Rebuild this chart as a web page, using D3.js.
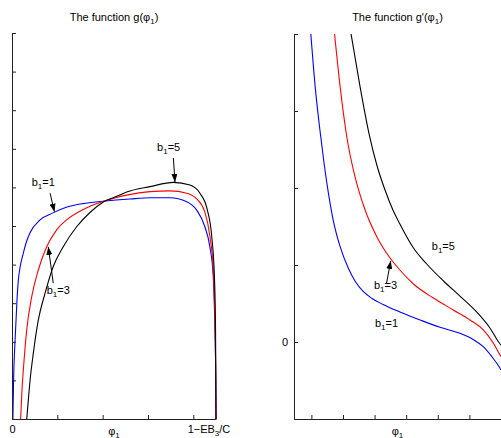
<!DOCTYPE html>
<html>
<head>
<meta charset="utf-8">
<script src="https://cdn.jsdelivr.net/npm/d3@7"></script>
<style>
  body { margin: 0; background: #fff; }
  svg text { font-family: "Liberation Sans", Arial, sans-serif; font-size: 11px; fill: #000; }
</style>
</head>
<body>
<div id="chart_box"></div>
<script>
// g(phi1) for b1 = 1, 3, 5  -> [phi1, g]
var gB1 = [[0.004,0],[0.007,0.101],[0.013,0.197],[0.022,0.308],[0.028,0.360],[0.035,0.391],[0.050,0.430],
    [0.062,0.456],[0.079,0.482],[0.124,0.516],[0.181,0.534],[0.243,0.549],[0.313,0.558],[0.401,0.564],
    [0.521,0.570],[0.609,0.573],[0.697,0.573],[0.771,0.563],[0.815,0.541],[0.851,0.498],[0.873,0.446],
    [0.888,0.369],[0.895,0.239],[0.899,0.101],[0.900,0]];
var gB3 = [[0.038,0],[0.044,0.075],[0.050,0.127],[0.065,0.231],[0.087,0.317],[0.116,0.386],[0.153,0.446],
    [0.197,0.490],[0.241,0.516],[0.315,0.543],[0.388,0.561],[0.462,0.574],[0.506,0.580],[0.609,0.589],
    [0.697,0.591],[0.771,0.585],[0.815,0.570],[0.851,0.536],[0.873,0.474],[0.888,0.386],[0.895,0.256],
    [0.899,0.101],[0.900,0]];
var gB5 = [[0.065,0],[0.072,0.049],[0.079,0.096],[0.094,0.170],[0.116,0.256],[0.146,0.326],[0.182,0.395],
    [0.226,0.446],[0.285,0.498],[0.344,0.535],[0.403,0.562],[0.462,0.577],[0.506,0.588],[0.609,0.602],
    [0.712,0.613],[0.785,0.606],[0.829,0.585],[0.862,0.541],[0.881,0.474],[0.893,0.369],[0.898,0.231],
    [0.900,0]];

// g'(phi1) for b1 = 1, 3, 5  -> [phi1, g']
var dgB1 = [[0.098,4.013],[0.112,3.316],[0.127,2.753],[0.140,2.325],[0.154,1.931],[0.169,1.584],[0.191,1.238],
    [0.217,0.957],[0.238,0.792],[0.264,0.656],[0.292,0.565],[0.327,0.487],[0.380,0.390],[0.444,0.286],
    [0.507,0.191],[0.570,0.113],[0.612,0.032],[0.644,-0.061],[0.671,-0.191],[0.697,-0.342],[0.700,-0.364]];
var dgB3 = [[0.173,4.013],[0.191,3.316],[0.212,2.666],[0.238,2.147],[0.270,1.714],[0.307,1.368],[0.349,1.091],
    [0.380,0.935],[0.423,0.753],[0.486,0.571],[0.549,0.416],[0.602,0.286],[0.644,0.156],[0.676,-0.017],
    [0.697,-0.169],[0.700,-0.190]];
var dgB5 = [[0.225,4.013],[0.254,3.316],[0.282,2.714],[0.307,2.299],[0.333,1.974],[0.358,1.714],[0.380,1.532],
    [0.423,1.221],[0.465,1.013],[0.518,0.792],[0.570,0.597],[0.623,0.390],[0.665,0.182],[0.697,-0.026],
    [0.700,-0.040]];

var seriesColors = ["#0000ff", "#ff0000", "#000000"];

// ticks
var leftXTicks = [0, 0.2, 0.4, 0.6, 0.8];
var leftYTicks = d3.range(0, 11).map(function (i) { return i / 10; });
var rightXTicks = [0.1, 0.2, 0.3, 0.4, 0.5, 0.6, 0.7];
var rightYTicks = [-1, 0, 1, 2, 3, 4];
var endLabelPhi = 0.869; // where "1-EB3/C" sits

// annotations (data units): b1 label and optional arrow from -> to
var leftNotes = [
    { b: "5", at: [0.640, 0.694], from: [0.712, 0.676], to: [0.719, 0.614] },
    { b: "1", at: [0.087, 0.604], from: [0.168, 0.585], to: [0.187, 0.537] },
    { b: "3", at: [0.153, 0.324], from: [0.182, 0.352], to: [0.160, 0.446] }
];
var rightNotes = [
    { b: "5", at: [0.481, 1.195] },
    { b: "3", at: [0.298, 0.688], from: [0.338, 0.766], to: [0.351, 1.052] },
    { b: "1", at: [0.301, 0.195] }
];

var W = 501, H = 438;
var svg = d3.select("#chart_box").append("svg")
    .attr("width", W)
    .attr("height", H);

svg.append("defs").append("marker")
    .attr("id", "arrow")
    .attr("markerUnits", "userSpaceOnUse")
    .attr("viewBox", "0 0 8 6")
    .attr("refX", 8).attr("refY", 3)
    .attr("markerWidth", 8).attr("markerHeight", 6)
    .attr("orient", "auto")
    .append("path").attr("d", "M0,0L8,3L0,6Z").attr("fill", "#000");

// scales
var xL = d3.scaleLinear().domain([0, 0.9]).range([12, 216]);
var yL = d3.scaleLinear().domain([0, 1]).range([419, 33]);
var xR = d3.scaleLinear().domain([0.045, 0.7]).range([294, 501]);
var yR = d3.scaleLinear().domain([-1, 4]).range([419, 34]);

// text with subscripts: parts = [[str, isSub], ...]
function richText(sel, x, y, parts, anchor) {
    var t = sel.append("text").attr("x", x).attr("y", y)
        .attr("text-anchor", anchor || "start");
    var shift = 0;
    parts.forEach(function (p) {
        var s = p[1] ? 3 : 0;
        t.append("tspan")
            .attr("dy", s - shift)
            .style("font-size", p[1] ? "8px" : null)
            .text(p[0]);
        shift = s;
    });
    return t;
}

function drawPanel(x, y, series, xTicks, yTicks, yFmt, clipId, notes) {
    var g = svg.append("g");

    g.append("clipPath").attr("id", clipId)
        .append("rect")
        .attr("x", x.range()[0]).attr("y", y.range()[1])
        .attr("width", x.range()[1] - x.range()[0] + 20)
        .attr("height", y.range()[0] - y.range()[1]);

    var line = d3.line()
        .x(function (d) { return x(d[0]); })
        .y(function (d) { return y(d[1]); })
        .curve(d3.curveMonotoneX);

    g.append("g").attr("clip-path", "url(#" + clipId + ")")
        .selectAll("path")
        .data(series)
        .enter().append("path")
        .attr("d", line)
        .attr("fill", "none")
        .attr("stroke", function (d, i) { return seriesColors[i]; })
        .attr("stroke-width", 1.1);

    var xAxis = g.append("g")
        .attr("class", "x-axis")
        .attr("transform", "translate(0," + y.range()[0] + ")")
        .call(d3.axisBottom(x).tickValues(xTicks).tickSizeInner(-4).tickSizeOuter(0)
            .tickPadding(6).tickFormat(function (d) { return d === 0 ? "0" : ""; }));
    var yAxis = g.append("g")
        .attr("transform", "translate(" + x.range()[0] + ",0)")
        .call(d3.axisLeft(y).tickValues(yTicks).tickSizeInner(-4).tickSizeOuter(0)
            .tickPadding(6).tickFormat(yFmt));

    [xAxis, yAxis].forEach(function (a) {
        a.attr("font-family", null).attr("font-size", null);
        a.selectAll("path, line").attr("stroke", "#222");
    });

    notes.forEach(function (n) {
        richText(g, x(n.at[0]), y(n.at[1]), [["b", 0], ["1", 1], ["=" + n.b, 0]]);
        if (n.from) {
            g.append("line")
                .attr("x1", x(n.from[0])).attr("y1", y(n.from[1]))
                .attr("x2", x(n.to[0])).attr("y2", y(n.to[1]))
                .attr("stroke", "#000").attr("stroke-width", 1)
                .attr("marker-end", "url(#arrow)");
        }
    });

    var mid = (x.range()[0] + x.range()[1]) / 2;
    richText(g, mid, 435, [["\u03c6", 0], ["1", 1]], "middle");
    return { g: g, mid: mid };
}

var left = drawPanel(xL, yL, [gB1, gB3, gB5], leftXTicks, leftYTicks,
    function () { return ""; }, "clipL", leftNotes);
var right = drawPanel(xR, yR, [dgB1, dgB3, dgB5], rightXTicks, rightYTicks,
    function (d) { return d === 0 ? "0" : ""; }, "clipR", rightNotes);

// no tick labels under the right x axis
right.g.selectAll(".x-axis .tick text").remove();

// end label of the left x axis
richText(left.g, xL(endLabelPhi), 433, [["1\u2212EB", 0], ["3", 1], ["/C", 0]], "middle");

// titles
richText(svg, left.mid, 21, [["The function g(\u03c6", 0], ["1", 1], [")", 0]], "middle");
richText(svg, right.mid, 21, [["The function g'(\u03c6", 0], ["1", 1], [")", 0]], "middle");
</script>
</body>
</html>
